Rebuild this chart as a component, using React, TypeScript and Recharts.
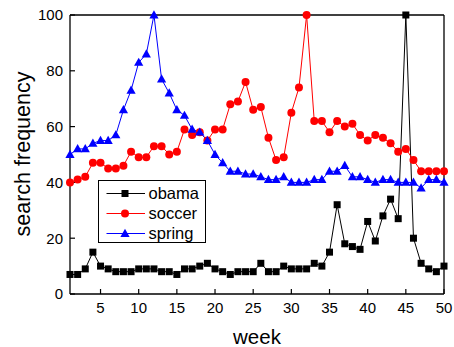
import React from 'react';
import { LineChart, Line, XAxis, YAxis, Legend, Label } from 'recharts';

const weeks = [1, 2, 3, 4, 5, 6, 7, 8, 9, 10, 11, 12, 13, 14, 15, 16, 17, 18, 19, 20, 21, 22, 23, 24, 25, 26, 27, 28, 29, 30, 31, 32, 33, 34, 35, 36, 37, 38, 39, 40, 41, 42, 43, 44, 45, 46, 47, 48, 49, 50];
const obama = [7, 7, 9, 15, 10, 9, 8, 8, 8, 9, 9, 9, 8, 8, 7, 9, 9, 10, 11, 9, 8, 7, 8, 8, 8, 11, 8, 8, 10, 9, 9, 9, 11, 10, 15, 32, 18, 17, 16, 26, 19, 28, 34, 27, 100, 20, 11, 9, 8, 10];
const soccer = [40, 41, 42, 47, 47, 45, 45, 46, 51, 49, 49, 53, 53, 50, 51, 59, 57, 58, 55, 59, 59, 68, 69, 76, 66, 67, 56, 48, 49, 65, 74, 100, 62, 62, 58, 62, 60, 61, 57, 55, 57, 56, 54, 51, 52, 48, 44, 44, 44, 44];
const spring = [50, 52, 52, 54, 55, 55, 57, 66, 73, 83, 86, 100, 77, 72, 66, 64, 59, 58, 55, 50, 47, 44, 44, 43, 43, 42, 41, 41, 42, 40, 40, 40, 41, 41, 44, 44, 46, 42, 42, 41, 40, 41, 41, 40, 40, 40, 38, 41, 41, 40];

const xTicks = [5, 10, 15, 20, 25, 30, 35, 40, 45, 50];
const yTicks = [0, 20, 40, 60, 80, 100];
const seriesNames = ['obama', 'soccer', 'spring'];
const seriesColors = ['#000000', '#ff0000', '#0000ff'];
const seriesShapes = ['square', 'circle', 'triangle'];

const data = weeks.map((w, i) => ({ week: w, obama: obama[i], soccer: soccer[i], spring: spring[i] }));

const FONT = '"Liberation Sans", Arial, Helvetica, sans-serif';

function Marker({ kind, cx, cy, color }: { kind: string; cx: number; cy: number; color: string }) {
  if (cx == null || cy == null) return null;
  if (kind === 'square') {
    return <rect x={cx - 3.5} y={cy - 3.5} width={7} height={7} fill={color} />;
  }
  if (kind === 'circle') {
    return <circle cx={cx} cy={cy} r={4} fill={color} />;
  }
  return (
    <polygon
      points={`${cx},${cy - 4.8} ${cx - 4.6},${cy + 3.4} ${cx + 4.6},${cy + 3.4}`}
      fill={color}
    />
  );
}

const LegendBox = () => (
  <svg width={108} height={63} style={{ display: 'block' }}>
    <rect x={0.5} y={0.5} width={107} height={62} fill="#ffffff" stroke="#000000" strokeWidth={1} />
    {seriesNames.map((n, i) => {
      const y = 13.5 + i * 20;
      return (
        <g key={n}>
          <line x1={8.5} x2={47} y1={y} y2={y} stroke={seriesColors[i]} strokeWidth={1} />
          <Marker kind={seriesShapes[i]} cx={27} cy={y} color={seriesColors[i]} />
          <text x={50.5} y={y + 5.7} fontSize={16.5} fontFamily={FONT} fill="#000000">
            {n}
          </text>
        </g>
      );
    })}
  </svg>
);

const axisLine = { stroke: '#000000', strokeWidth: 1.3 };
const tickLine = { stroke: '#000000', strokeWidth: 1.2 };
const tickStyle = { fill: '#000000', fontSize: 15, fontFamily: FONT };

export default function App() {
  return (
    <div style={{ position: 'absolute', left: 0, top: 0, width: 454, height: 347, background: '#ffffff' }}>
      <LineChart
        width={454}
        height={347}
        data={data}
        margin={{ top: 14, right: 9, bottom: 23, left: 30 }}
      >
        <XAxis
          dataKey="week"
          type="number"
          domain={[1, 50]}
          ticks={xTicks}
          height={30}
          axisLine={axisLine}
          tickLine={tickLine}
          tickSize={-5}
          tickMargin={13}
          tick={tickStyle}
          interval={0}
        >
          <Label
            content={() => (
              <text x={257} y={344} textAnchor="middle" fontSize={20.5} fontFamily={FONT} fill="#000000">
                week
              </text>
            )}
          />
        </XAxis>
        <XAxis
          xAxisId="top"
          orientation="top"
          dataKey="week"
          type="number"
          domain={[1, 50]}
          ticks={xTicks}
          height={1}
          axisLine={axisLine}
          tickLine={tickLine}
          tickSize={-5}
          tick={false}
          interval={0}
        />
        <YAxis
          type="number"
          domain={[0, 100]}
          ticks={yTicks}
          width={40}
          axisLine={axisLine}
          tickLine={tickLine}
          tickSize={-5}
          tickMargin={12}
          tick={tickStyle}
          interval={0}
        >
          <Label
            content={() => (
              <text
                x={30}
                y={154}
                transform="rotate(-90 30 154)"
                textAnchor="middle"
                fontSize={21.5}
                fontFamily={FONT}
                fill="#000000"
              >
                search frequency
              </text>
            )}
          />
        </YAxis>
        <YAxis
          yAxisId="right"
          orientation="right"
          type="number"
          domain={[0, 100]}
          ticks={yTicks}
          width={1}
          axisLine={axisLine}
          tickLine={tickLine}
          tickSize={-5}
          tick={false}
          interval={0}
        />
        <Legend
          layout="vertical"
          verticalAlign="middle"
          align="center"
          wrapperStyle={{ left: 98, top: 180, width: 108, height: 63 }}
          content={() => <LegendBox />}
        />
        <Line
          xAxisId="top"
          yAxisId="right"
          dataKey="obama"
          stroke="none"
          dot={false}
          activeDot={false}
          legendType="none"
          isAnimationActive={false}
        />
        {seriesNames.map((name, si) => (
          <Line
            key={name}
            dataKey={name}
            name={name}
            stroke={seriesColors[si]}
            strokeWidth={1}
            isAnimationActive={false}
            dot={(p: any) => (
              <Marker
                key={`${name}-${p.index}`}
                kind={seriesShapes[si]}
                cx={p.cx}
                cy={p.cy}
                color={seriesColors[si]}
              />
            )}
            activeDot={false}
          />
        ))}
      </LineChart>
    </div>
  );
}
